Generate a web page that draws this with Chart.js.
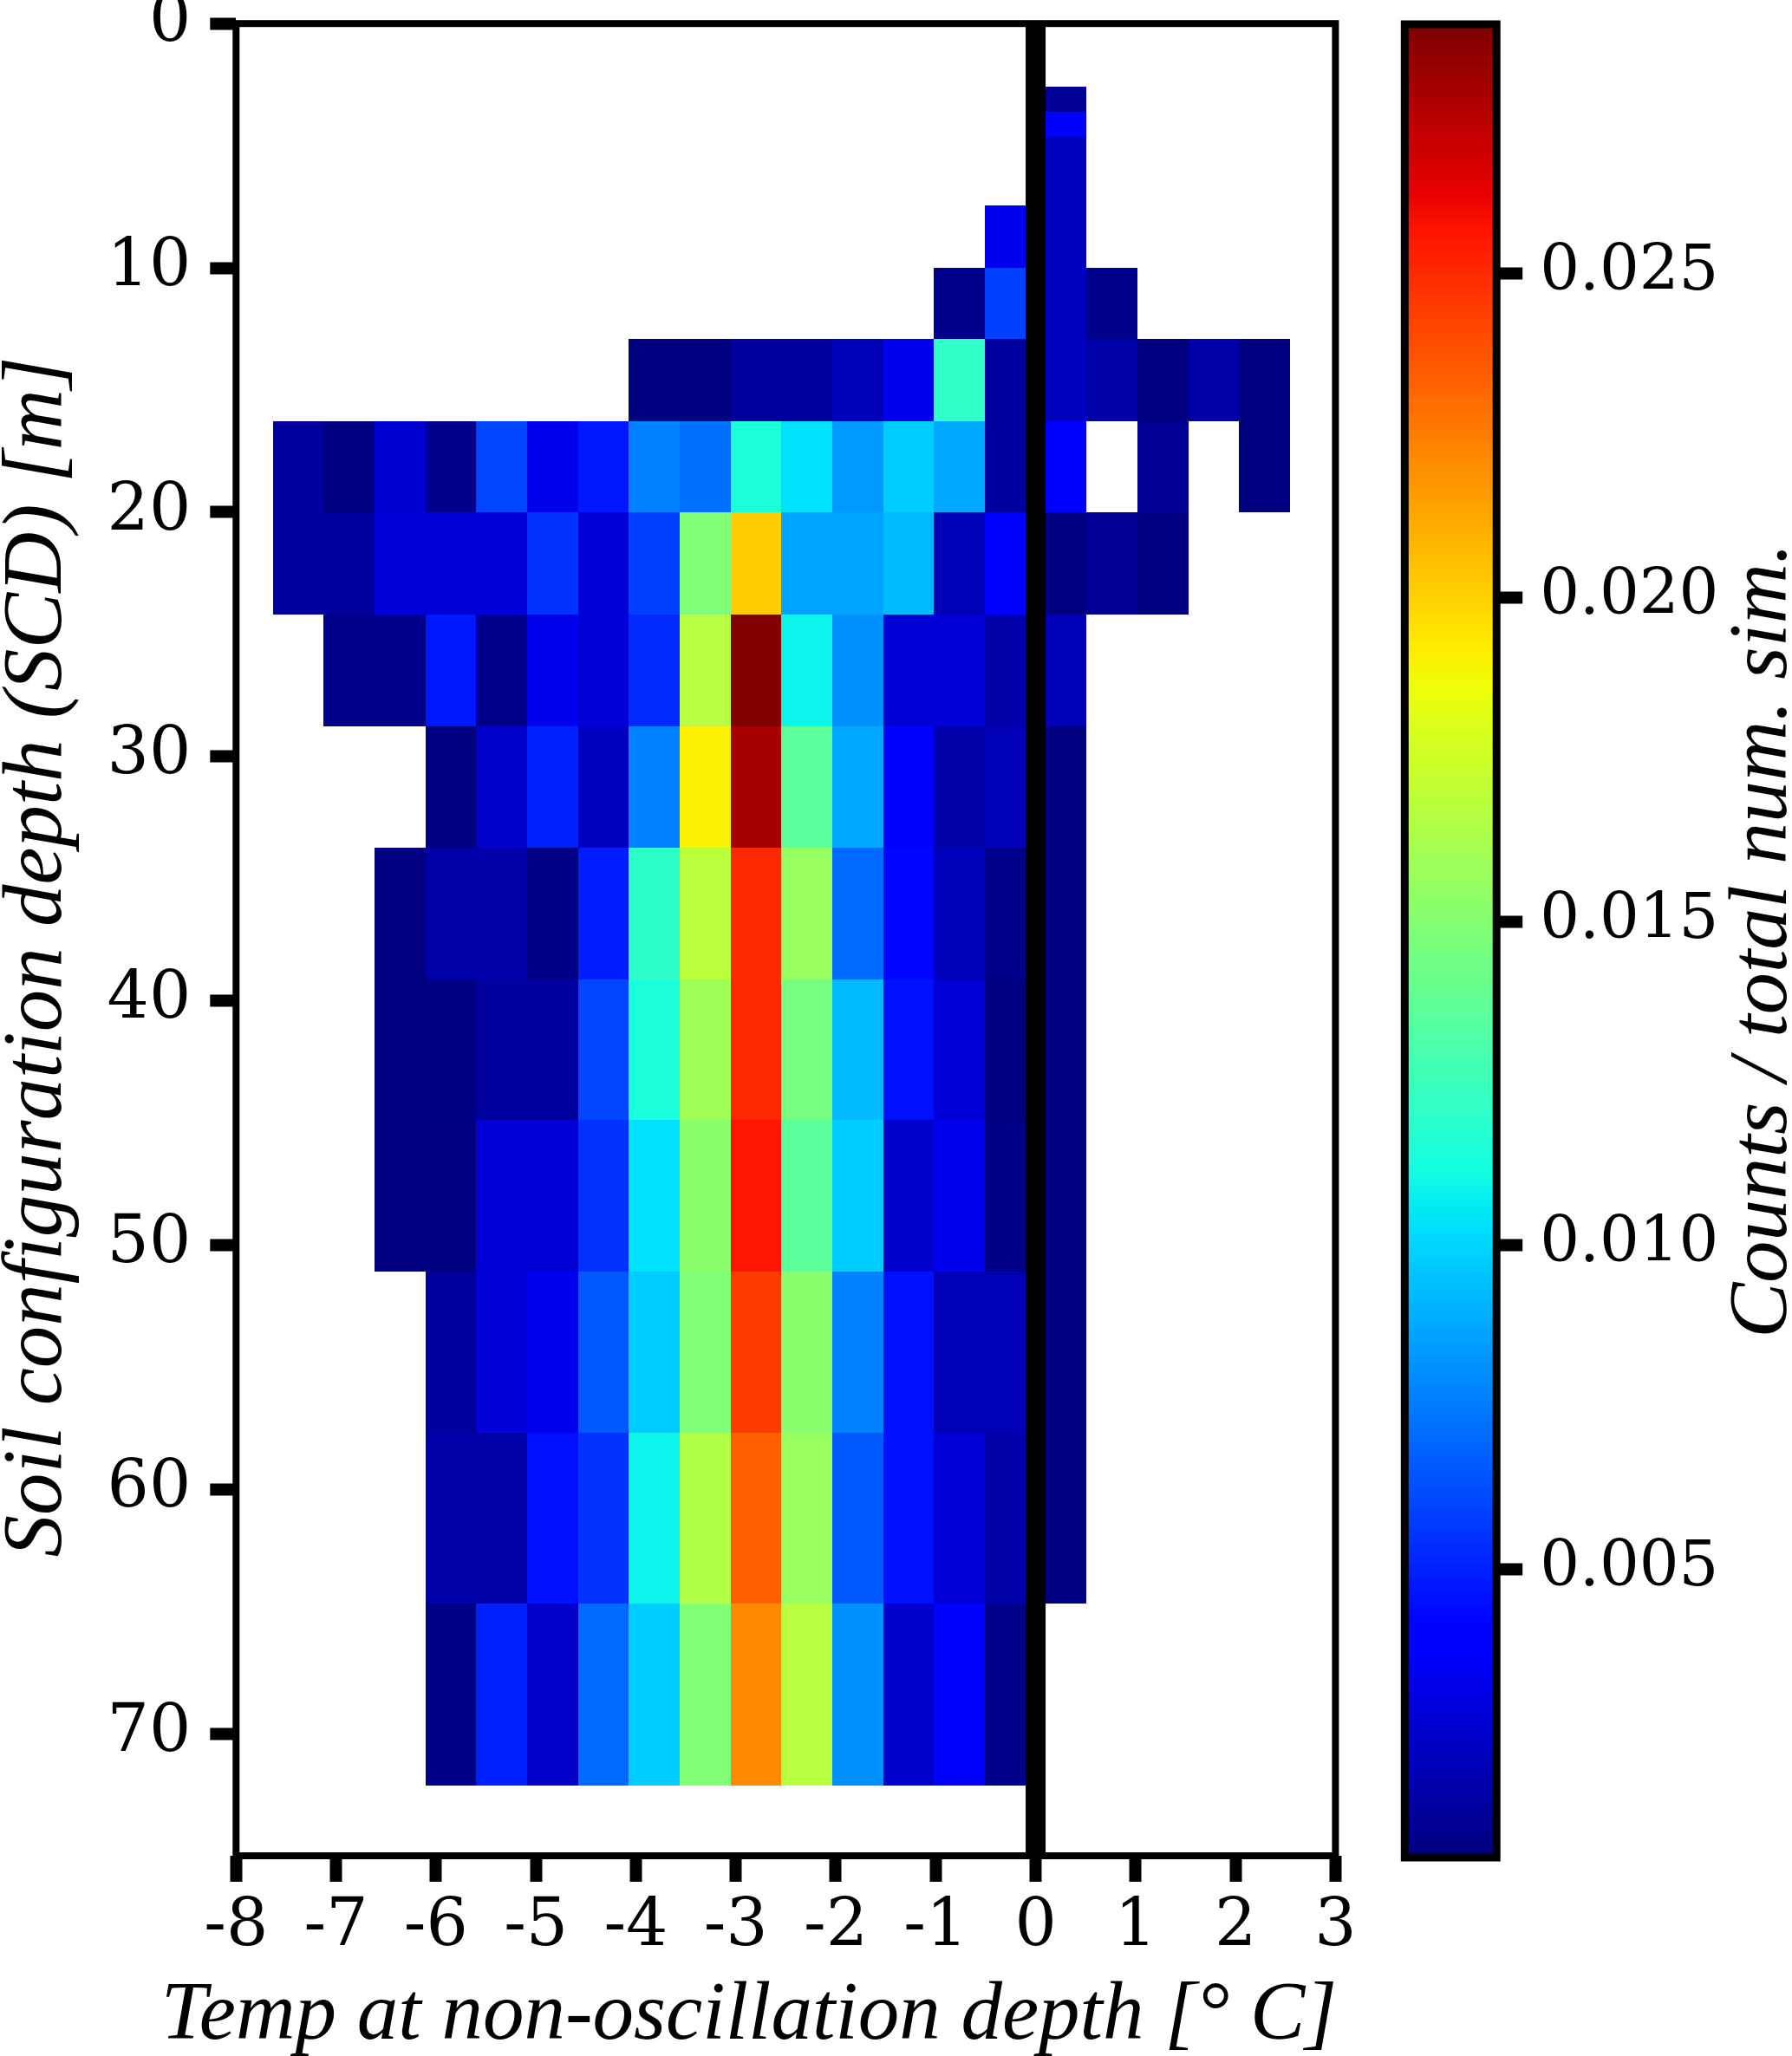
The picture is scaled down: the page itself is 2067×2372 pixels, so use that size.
<!DOCTYPE html>
<html>
<head>
<meta charset="utf-8">
<script src="https://cdn.jsdelivr.net/npm/chart.js@4.4.1/dist/chart.umd.min.js"></script>
<style>
  html, body { margin: 0; padding: 0; background: #ffffff; }
  #wrap { position: relative; width: 2067px; height: 2372px; overflow: hidden; }
  #main { position: absolute; left: 0; top: 0; }
  #cbar { position: absolute; left: 1560px; top: 0; }
</style>
</head>
<body>
<div id="wrap">
  <canvas id="main" width="2067" height="2372"></canvas>
  <canvas id="cbar" width="507" height="2372"></canvas>
</div>
<script>
// ---------------- DATA ----------------
// Histogram bin edges: temperature [°C] and soil configuration depth [m]
const xEdges = [-7.633, -7.124, -6.615, -6.106, -5.597, -5.089, -4.580, -4.071, -3.562, -3.053,
                -2.544, -2.035, -1.526, -1.018, -0.509, 0.000, 0.509, 1.018, 1.527, 2.036, 2.545];
const yEdges = [2.60, 3.60, 4.63, 7.45, 10.00, 12.92, 16.28, 20.02, 24.20, 28.77,
                33.72, 39.12, 44.89, 51.10, 57.67, 64.69, 72.11];

// Counts / total num. sim. for each depth row (columns follow xEdges bins)
const row00 = [null,null,null,null,null,null,null,null,null,null,null,null,null,null,null,0.00117,null,null,null,null];
const row01 = [null,null,null,null,null,null,null,null,null,null,null,null,null,null,null,0.00382,null,null,null,null];
const row02 = [null,null,null,null,null,null,null,null,null,null,null,null,null,null,null,0.00214,null,null,null,null];
const row03 = [null,null,null,null,null,null,null,null,null,null,null,null,null,null,0.00331,0.00214,null,null,null,null];
const row04 = [null,null,null,null,null,null,null,null,null,null,null,null,null,0.00097,0.00590,0.00214,0.00097,null,null,null];
const row05 = [null,null,null,null,null,null,null,0.00058,0.00058,0.00136,0.00136,0.00195,0.00326,0.01210,0.00136,0.00214,0.00156,0.00057,0.00156,0.00058];
const row06 = [0.00136,0.00058,0.00260,0.00097,0.00598,0.00326,0.00476,0.00764,0.00720,0.01140,0.01030,0.00830,0.00974,0.00875,0.00136,0.00382,null,0.00117,null,0.00058];
const row07 = [0.00136,0.00136,0.00273,0.00273,0.00273,0.00543,0.00273,0.00587,0.01483,0.02016,0.00864,0.00864,0.00918,0.00195,0.00382,0.00057,0.00117,0.00058,null,null];
const row08 = [null,0.00097,0.00097,0.00476,0.00097,0.00326,0.00273,0.00520,0.01677,0.02880,0.01085,0.00808,0.00273,0.00273,0.00156,0.00195,null,null,null,null];
const row09 = [null,null,null,0.00058,0.00253,0.00500,0.00214,0.00764,0.01906,0.02780,0.01364,0.00875,0.00382,0.00156,0.00195,0.00058,null,null,null,null];
const row10 = [null,null,0.00058,0.00156,0.00156,0.00078,0.00490,0.01200,0.01690,0.02507,0.01567,0.00698,0.00430,0.00200,0.00097,0.00057,null,null,null,null];
const row11 = [null,null,0.00057,0.00075,0.00136,0.00136,0.00598,0.01141,0.01593,0.02507,0.01457,0.00918,0.00454,0.00273,0.00058,0.00058,null,null,null,null];
const row12 = [null,null,0.00057,0.00057,0.00273,0.00273,0.00543,0.01030,0.01525,0.02555,0.01364,0.00974,0.00253,0.00326,0.00078,0.00058,null,null,null,null];
const row13 = [null,null,null,0.00136,0.00273,0.00326,0.00653,0.00974,0.01483,0.02445,0.01525,0.00764,0.00454,0.00195,0.00195,0.00058,null,null,null,null];
const row14 = [null,null,null,0.00156,0.00156,0.00454,0.00543,0.01087,0.01649,0.02338,0.01567,0.00653,0.00454,0.00273,0.00156,0.00058,null,null,null,null];
const row15 = [null,null,null,0.00078,0.00500,0.00233,0.00698,0.00974,0.01483,0.02219,0.01677,0.00808,0.00253,0.00382,0.00097,null,null,null,null,null];
const density = [row00,row01,row02,row03,row04,row05,row06,row07,row08,row09,row10,row11,row12,row13,row14,row15];

// Tick labels
const xTicks = [-8,-7,-6,-5,-4,-3,-2,-1,0,1,2,3];
const yTicks = [0,10,20,30,40,50,60,70];
const cbTicks = [0.005,0.010,0.015,0.020,0.025];
const zeroLineAt = 0;

// Colour scale limits
const VMIN = 0.00055, VMAX = 0.02885;

// Texts
const xTitle = 'Temp at non-oscillation depth [° C]';
const yTitle = 'Soil configuration depth (SCD) [m]';
const cbTitle = 'Counts / total num. sim.';

// ---------------- COLORMAP (matplotlib jet, 256 levels) ----------------
const JR = [[0,0],[0.35,0],[0.66,1],[0.89,1],[1,0.5]];
const JG = [[0,0],[0.125,0],[0.375,1],[0.64,1],[0.91,0],[1,0]];
const JB = [[0,0.5],[0.11,1],[0.34,1],[0.65,0],[1,0]];
function seg(pts, t) {
  for (let i = 1; i < pts.length; i++) {
    if (t <= pts[i][0]) {
      const [a0, b0] = pts[i-1], [a1, b1] = pts[i];
      return b0 + (b1 - b0) * (t - a0) / (a1 - a0);
    }
  }
  return pts[pts.length-1][1];
}
function lutColor(idx) {
  const t = idx / 255;
  const r = Math.round(seg(JR, t) * 255), g = Math.round(seg(JG, t) * 255), b = Math.round(seg(JB, t) * 255);
  return `rgb(${r},${g},${b})`;
}
function jetColor(v) {
  let t = (v - VMIN) / (VMAX - VMIN);
  t = Math.min(1, Math.max(0, t));
  const idx = Math.min(255, Math.floor(t * 256));
  return lutColor(idx);
}

// Build cells from the arrays
const cells = [];
density.forEach((row, j) => {
  row.forEach((v, i) => {
    if (v === null) return;
    cells.push({
      x: (xEdges[i] + xEdges[i+1]) / 2, y: (yEdges[j] + yEdges[j+1]) / 2,
      x0: xEdges[i], x1: xEdges[i+1], y0: yEdges[j], y1: yEdges[j+1], v: v
    });
  });
});

const SERIF = '"DejaVu Serif", serif';
const ITALIC = '"Liberation Serif", "Times New Roman", serif';

function noPad(s) { s.paddingTop = 0; s.paddingBottom = 0; s.paddingLeft = 0; s.paddingRight = 0; }

// ---------------- MAIN HEATMAP ----------------
const heatPlugin = {
  id: 'heat',
  beforeDatasetsDraw(chart) {
    const { ctx, chartArea: ca, scales: { x, y } } = chart;
    ctx.save();
    chart.data.datasets[0].data.forEach(c => {
      const xl = Math.round(x.getPixelForValue(c.x0)), xr = Math.round(x.getPixelForValue(c.x1));
      const yt = Math.round(y.getPixelForValue(c.y0)), yb = Math.round(y.getPixelForValue(c.y1));
      ctx.fillStyle = jetColor(c.v);
      ctx.fillRect(xl, yt, xr - xl, yb - yt);
    });
    // vertical line at 0 °C
    const xz = x.getPixelForValue(zeroLineAt);
    ctx.fillStyle = '#000';
    ctx.fillRect(xz - 11.5, ca.top, 23, ca.bottom - ca.top);
    ctx.restore();
  },
  afterDraw(chart) {
    const { ctx, chartArea: ca } = chart;
    ctx.save();
    ctx.strokeStyle = '#000';
    ctx.lineWidth = 8;
    ctx.strokeRect(ca.left, ca.top, ca.right - ca.left, ca.bottom - ca.top);
    ctx.fillStyle = '#000';
    ctx.font = 'italic 95px ' + ITALIC;
    ctx.textAlign = 'center';
    ctx.textBaseline = 'alphabetic';
    ctx.fillText(xTitle, 864, 2352);
    ctx.translate(70, 1104);
    ctx.rotate(-Math.PI / 2);
    ctx.font = 'italic 97px ' + ITALIC;
    ctx.fillText(yTitle, 0, 0);
    ctx.restore();
  }
};

new Chart(document.getElementById('main'), {
  type: 'scatter',
  data: { datasets: [{ data: cells, pointRadius: 0, pointHoverRadius: 0, showLine: false }] },
  options: {
    responsive: false, animation: false, devicePixelRatio: 1, events: [],
    layout: { padding: { left: 0, top: 27.2, right: 526.6, bottom: 0 } },
    plugins: { legend: { display: false }, tooltip: { enabled: false } },
    scales: {
      x: {
        type: 'linear', min: -8, max: 3, position: 'bottom',
        afterFit: s => { s.height = 231; noPad(s); },
        afterBuildTicks: s => { s.ticks = xTicks.map(v => ({ value: v })); },
        ticks: { font: { family: SERIF, size: 76 }, color: '#000', padding: 8, maxRotation: 0, autoSkip: false,
                 callback: v => String(v) },
        grid: { drawOnChartArea: false, drawTicks: true, tickLength: 30, tickWidth: 14, tickColor: '#000' },
        border: { display: false }
      },
      y: {
        type: 'linear', min: 0, max: 75, reverse: true, position: 'left',
        afterFit: s => { s.width = 272.3; noPad(s); },
        afterBuildTicks: s => { s.ticks = yTicks.map(v => ({ value: v })); },
        ticks: { font: { family: SERIF, size: 76 }, color: '#000', padding: 22, autoSkip: false,
                 callback: v => String(v) },
        grid: { drawOnChartArea: false, drawTicks: true, tickLength: 30, tickWidth: 14, tickColor: '#000' },
        border: { display: false }
      }
    }
  },
  plugins: [heatPlugin]
});

// ---------------- COLORBAR ----------------
const cbPlugin = {
  id: 'cb',
  beforeDatasetsDraw(chart) {
    const { ctx, chartArea: ca, scales: { y } } = chart;
    ctx.save();
    for (let k = 0; k < 256; k++) {
      const v0 = VMIN + (VMAX - VMIN) * k / 256, v1 = VMIN + (VMAX - VMIN) * (k + 1) / 256;
      const p0 = y.getPixelForValue(v0), p1 = y.getPixelForValue(v1);
      ctx.fillStyle = lutColor(k);
      ctx.fillRect(ca.left, Math.floor(p1), ca.right - ca.left, Math.ceil(p0) - Math.floor(p1));
    }
    ctx.restore();
  },
  afterDraw(chart) {
    const { ctx, chartArea: ca } = chart;
    ctx.save();
    ctx.strokeStyle = '#000';
    ctx.lineWidth = 9;
    ctx.strokeRect(ca.left, ca.top, ca.right - ca.left, ca.bottom - ca.top);
    ctx.fillStyle = '#000';
    ctx.font = 'italic 96px ' + ITALIC;
    ctx.textAlign = 'center';
    ctx.textBaseline = 'alphabetic';
    ctx.translate(500, 1085);
    ctx.rotate(-Math.PI / 2);
    ctx.fillText(cbTitle, 0, 0);
    ctx.restore();
  }
};

new Chart(document.getElementById('cbar'), {
  type: 'scatter',
  data: { datasets: [{ data: [], pointRadius: 0 }] },
  options: {
    responsive: false, animation: false, devicePixelRatio: 1, events: [],
    layout: { padding: { left: 60.3, top: 28, right: 0, bottom: 229 } },
    plugins: { legend: { display: false }, tooltip: { enabled: false } },
    scales: {
      x: { type: 'linear', display: false, min: 0, max: 1 },
      y: {
        type: 'linear', position: 'right', min: VMIN, max: VMAX,
        afterFit: s => { s.width = 507 - 166.2; noPad(s); },
        afterBuildTicks: s => { s.ticks = cbTicks.map(v => ({ value: v })); },
        ticks: { font: { family: SERIF, size: 72 }, color: '#000', padding: 20, autoSkip: false,
                 callback: v => Number(v).toFixed(3) },
        grid: { drawOnChartArea: false, drawTicks: true, tickLength: 30, tickWidth: 14, tickColor: '#000' },
        border: { display: false }
      }
    }
  },
  plugins: [cbPlugin]
});
</script>
</body>
</html>
